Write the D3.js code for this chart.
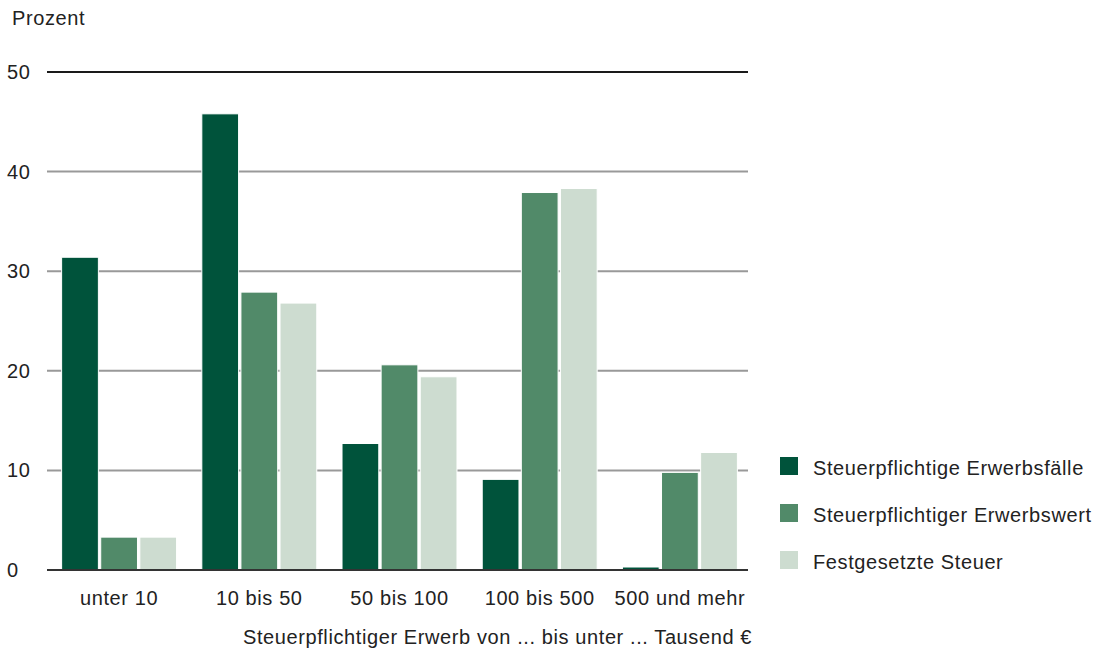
<!DOCTYPE html>
<html>
<head>
<meta charset="utf-8">
<script src="https://cdn.jsdelivr.net/npm/d3@7"></script>
<style>
  body { margin: 0; background: #fff; }
  text { font-family: "Liberation Sans", Arial, sans-serif; fill: #222; letter-spacing: 0.6px; }
</style>
</head>
<body>
<div class="container"></div>
<script>
const WIDTH = 1099;
const HEIGHT = 652;

const categories = ["unter 10", "10 bis 50", "50 bis 100", "100 bis 500", "500 und mehr"];
const seriesNames = ["Steuerpflichtige Erwerbsfälle", "Steuerpflichtiger Erwerbswert", "Festgesetzte Steuer"];
const erwerbsfaelle = [31.4, 45.8, 12.7, 9.1, 0.3];
const erwerbswert = [3.3, 27.9, 20.6, 37.9, 9.8];
const steuer = [3.3, 26.8, 19.4, 38.3, 11.8];
const yTicks = [0, 10, 20, 30, 40, 50];
const colors = ["#00533b", "#518a69", "#cddcd0"];

const FONT = 20;

var translate = function(x, y){
  return "translate(" + x + "," + y + ")";
};

var series = [erwerbsfaelle, erwerbswert, steuer];

var svg = d3.select('.container').append('svg')
  .attr('width', WIDTH)
  .attr('height', HEIGHT);

var xScale = d3.scaleBand()
  .domain(categories)
  .range([49, 750])
  .paddingInner(0.18)
  .paddingOuter(0.09);

var inner = d3.scaleBand()
  .domain([0, 1, 2])
  .range([0, xScale.bandwidth()])
  .paddingInner(0.06);

var yScale = d3.scaleLinear()
  .domain([0, 50])
  .range([570, 72]);

// grid lines
svg.append('g').selectAll('line')
  .data(yTicks)
  .join('line')
  .attr('x1', 47).attr('x2', 748)
  .attr('y1', d => yScale(d)).attr('y2', d => yScale(d))
  .attr('stroke', d => d === 50 ? '#1a1a1a' : (d === 0 ? '#333' : '#999'))
  .attr('stroke-width', 2);

// tick labels
svg.append('g').selectAll('text')
  .data(yTicks)
  .join('text')
  .attr('x', 7)
  .attr('y', d => yScale(d) + 7)
  .attr('font-size', FONT)
  .text(d => d);

svg.append('text')
  .attr('x', 12).attr('y', 25)
  .attr('font-size', FONT)
  .text('Prozent');

// bars
categories.forEach(function(cat, i){
  var g = svg.append('g').attr('transform', translate(xScale(cat), 0));
  series.forEach(function(s, j){
    g.append('rect')
      .attr('x', inner(j))
      .attr('width', inner.bandwidth())
      .attr('y', yScale(s[i]))
      .attr('height', yScale(0) - yScale(s[i]))
      .attr('fill', colors[j])
      .attr('stroke', '#fff')
      .attr('stroke-width', 1);
  });
});

// baseline on top of bars
svg.append('line')
  .attr('x1', 47).attr('x2', 748)
  .attr('y1', yScale(0)).attr('y2', yScale(0))
  .attr('stroke', '#333').attr('stroke-width', 2);

// category labels
svg.append('g').selectAll('text')
  .data(categories)
  .join('text')
  .attr('x', d => xScale(d) + xScale.bandwidth() / 2)
  .attr('y', 605)
  .attr('text-anchor', 'middle')
  .attr('font-size', FONT)
  .text(d => d);

svg.append('text')
  .attr('x', 752).attr('y', 644)
  .attr('text-anchor', 'end')
  .attr('font-size', FONT)
  .text('Steuerpflichtiger Erwerb von ... bis unter ... Tausend €');

// legend
var legend = svg.append('g').selectAll('g')
  .data(seriesNames)
  .join('g')
  .attr('transform', (d, i) => translate(780, 457 + i * 47));

legend.append('rect')
  .attr('width', 18).attr('height', 18)
  .attr('fill', (d, i) => colors[i]);

legend.append('text')
  .attr('x', 33).attr('y', 18)
  .attr('font-size', FONT)
  .text(d => d);
</script>
</body>
</html>
